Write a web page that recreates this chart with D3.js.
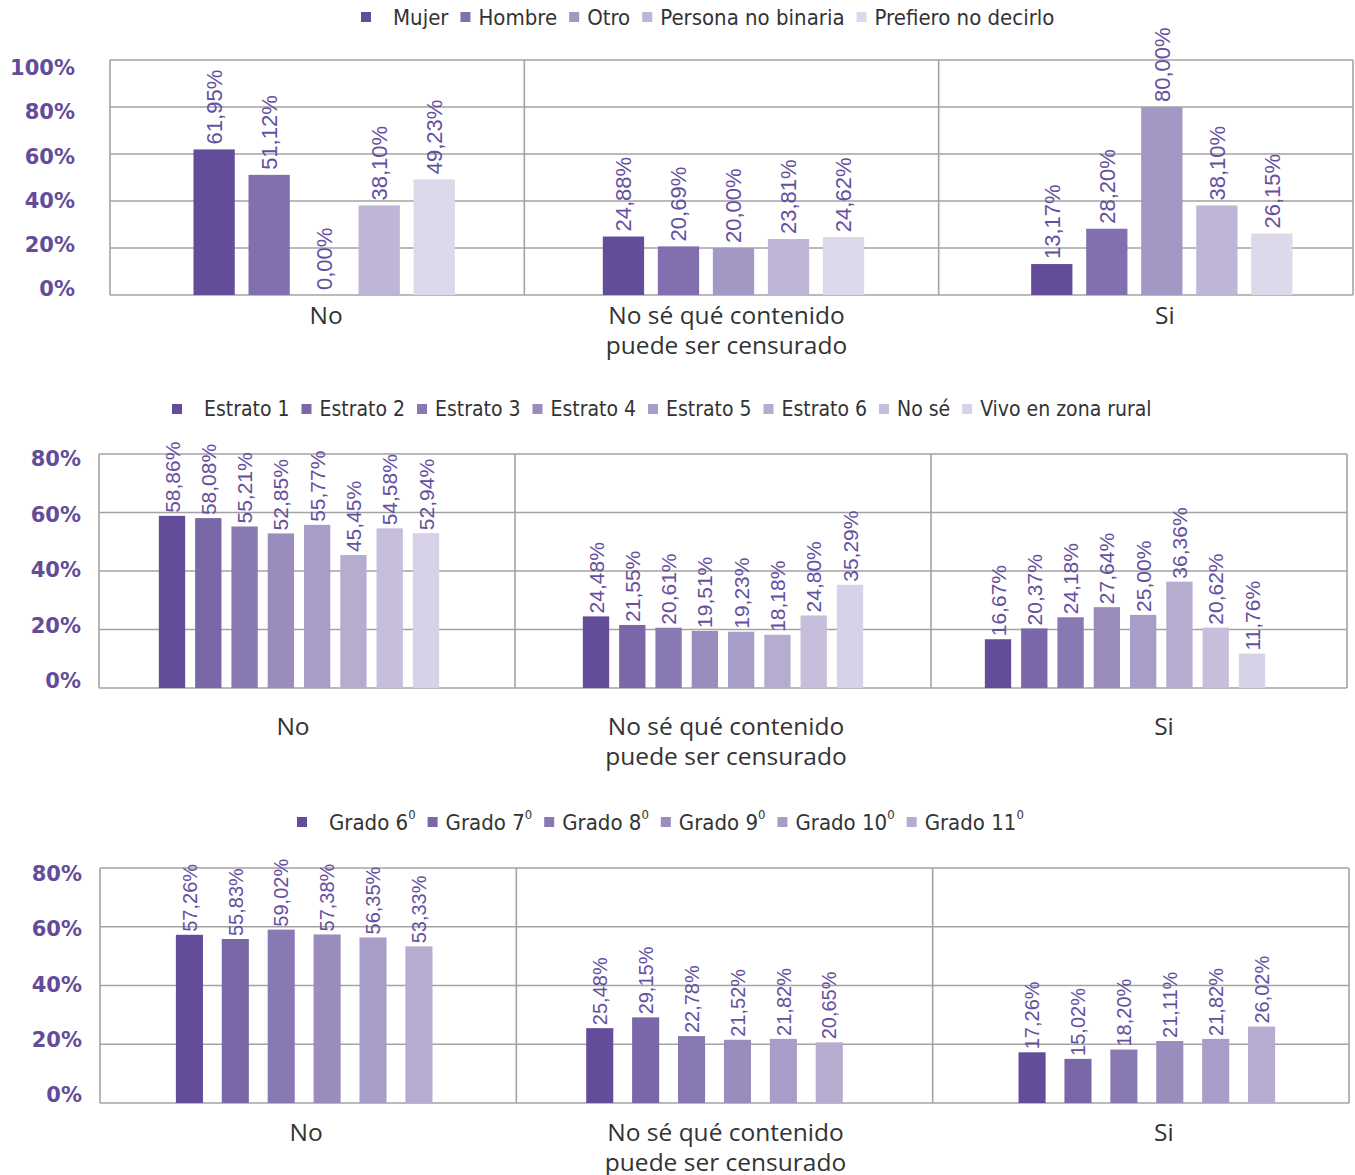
<!DOCTYPE html>
<html>
<head>
<meta charset="utf-8">
<script src="https://cdn.jsdelivr.net/npm/d3@7"></script>
<style>
  body { margin: 0; background: #fff; }
  svg { display: block; }
</style>
</head>
<body>
<svg id="chart" width="1355" height="1175"></svg>
<script>
// categories shared by the three panels
const categories = ["No", "No sé qué contenido\npuede ser censurado", "Si"];

// panel 1: gender
const generoSeries = ["Mujer", "Hombre", "Otro", "Persona no binaria", "Prefiero no decirlo"];
const generoValues = [
  [61.95, 24.88, 13.17],
  [51.12, 20.69, 28.20],
  [0.00, 20.00, 80.00],
  [38.10, 23.81, 38.10],
  [49.23, 24.62, 26.15]
];
const generoTicks = [0, 20, 40, 60, 80, 100];

// panel 2: estrato
const estratoSeries = ["Estrato 1", "Estrato 2", "Estrato 3", "Estrato 4", "Estrato 5", "Estrato 6", "No sé", "Vivo en zona rural"];
const estratoValues = [
  [58.86, 24.48, 16.67],
  [58.08, 21.55, 20.37],
  [55.21, 20.61, 24.18],
  [52.85, 19.51, 27.64],
  [55.77, 19.23, 25.00],
  [45.45, 18.18, 36.36],
  [54.58, 24.80, 20.62],
  [52.94, 35.29, 11.76]
];
const estratoTicks = [0, 20, 40, 60, 80];

// panel 3: grado (the "⁰" is drawn as a small superscript 0)
const gradoSeries = ["Grado 6⁰", "Grado 7⁰", "Grado 8⁰", "Grado 9⁰", "Grado 10⁰", "Grado 11⁰"];
const gradoValues = [
  [57.26, 25.48, 17.26],
  [55.83, 29.15, 15.02],
  [59.02, 22.78, 18.20],
  [57.38, 21.52, 21.11],
  [56.35, 21.82, 21.82],
  [53.33, 20.65, 26.02]
];
const gradoTicks = [0, 20, 40, 60, 80];

const colors5 = ["#634c99", "#826fae", "#a397c4", "#bfb5d6", "#ddd8ea"];
const colors8 = ["#634c99", "#7a67a8", "#8879b2", "#9a8cbd", "#a89dc8", "#b6acd0", "#c6bedb", "#d7d2e7"];
const colors6 = colors8.slice(0, 6);

const locale = d3.formatLocale({decimal: ",", thousands: ".", grouping: [3], currency: ["", ""]});
const pct = v => locale.format(".2f")(v) + "%";

const svg = d3.select("#chart");
const gridColor = "#a3a3a3";
const purple = "#634c99";

function drawPanel(cfg) {
  const g = svg.append("g");

  const x0 = d3.scaleBand().domain(categories).range([cfg.left, cfg.right]);
  const x1 = d3.scaleBand().domain(cfg.series)
    .range([0, x0.bandwidth()])
    .paddingInner(cfg.padIn).paddingOuter(cfg.padOut);
  const y = d3.scaleLinear().domain([0, d3.max(cfg.ticks)]).range([cfg.bottom, cfg.top]);
  // tick labels sit a bit tighter than the grid in the original
  const yLab = d3.scaleLinear().domain([0, d3.max(cfg.ticks)])
    .range([cfg.bottom - cfg.labBottom, cfg.top + cfg.labTop]);
  // groups are not exactly centred in their category in the original
  const gx = c => x0(c) + cfg.groupShift[categories.indexOf(c)];

  // horizontal grid lines
  g.append("g").selectAll("line")
    .data(cfg.ticks)
    .join("line")
    .attr("x1", cfg.left).attr("x2", cfg.right)
    .attr("y1", d => y(d)).attr("y2", d => y(d))
    .attr("stroke", gridColor).attr("stroke-width", 1.6);

  // vertical separators between categories
  const seps = categories.map(c => x0(c)).concat([cfg.right]);
  g.append("g").selectAll("line")
    .data(seps)
    .join("line")
    .attr("x1", d => d).attr("x2", d => d)
    .attr("y1", cfg.top).attr("y2", cfg.bottom)
    .attr("stroke", gridColor).attr("stroke-width", 1.6);

  // y axis labels
  const ax = g.append("g")
    .attr("transform", `translate(${cfg.tickX},0)`)
    .call(d3.axisLeft(yLab).tickValues(cfg.ticks).tickSize(0).tickPadding(0).tickFormat(d => d + "%"));
  ax.select(".domain").remove();
  ax.selectAll("text")
    .attr("fill", purple)
    .attr("font-family", "DejaVu Sans")
    .attr("font-weight", "bold")
    .attr("font-size", 21);

  // bars
  cfg.series.forEach((s, i) => {
    const sg = g.append("g");
    const rows = categories.map((c, j) => ({cat: c, v: cfg.values[i][j]}));
    sg.selectAll("rect")
      .data(rows)
      .join("rect")
      .attr("x", d => gx(d.cat) + x1(s))
      .attr("y", d => y(d.v))
      .attr("width", x1.bandwidth())
      .attr("height", d => y(0) - y(d.v))
      .attr("fill", cfg.colors[i]);

    sg.selectAll("text")
      .data(rows)
      .join("text")
      .attr("transform", d => `translate(${gx(d.cat) + x1(s) + x1.bandwidth() / 2},${y(d.v) - cfg.labGap}) rotate(-90)`)
      .attr("dy", "0.36em")
      .attr("font-family", "Liberation Sans")
      .attr("font-size", cfg.valSize)
      .attr("fill", "#6550a0")
      .text(d => pct(d.v));
  });

  // category labels
  const cx = d => x0(d) + x0.bandwidth() / 2 + cfg.catShift[categories.indexOf(d)];
  const cl = g.append("g").selectAll("text")
    .data(categories)
    .join("text")
    .attr("x", cx)
    .attr("y", cfg.bottom + cfg.catDy)
    .attr("text-anchor", "middle")
    .attr("dominant-baseline", "central")
    .attr("font-family", "Open Sans")
    .attr("font-size", 24.5)
    .attr("fill", "#333");
  cl.each(function(d) {
    const t = d3.select(this);
    d.split("\n").forEach((line, k) => {
      t.append("tspan")
        .attr("x", cx(d))
        .attr("dy", k === 0 ? 0 : 30)
        .text(line);
    });
  });

  // legend
  const lg = g.append("g");
  let lx = cfg.legendX;
  cfg.series.forEach((s, i) => {
    lg.append("rect")
      .attr("x", lx).attr("y", cfg.legendY - 5)
      .attr("width", 10).attr("height", 10)
      .attr("fill", cfg.colors[i]);
    lx += 10 + (i === 0 ? 22 : 8);
    const t = lg.append("text")
      .attr("x", lx).attr("y", cfg.legendY)
      .attr("dominant-baseline", "central")
      .attr("font-family", "Liberation Sans Narrow, DejaVu Sans Condensed, sans-serif")
      .attr("font-size", cfg.legendSize)
      .attr("fill", "#333");
    const sup = s.endsWith("⁰");
    t.append("tspan").text(sup ? s.slice(0, -1) : s);
    if (sup) {
      t.append("tspan").attr("font-size", 13).attr("dy", -8).text("0");
    }
    lx += t.node().getComputedTextLength() + 12;
  });
}

drawPanel({
  series: generoSeries, values: generoValues, colors: colors5, ticks: generoTicks,
  left: 110, right: 1353, top: 60, bottom: 295,
  padIn: 0.25, padOut: 1.39, groupShift: [7, 2, 16],
  labTop: 8, labBottom: 6, tickX: 75,
  valSize: 22, labGap: 5, catDy: 19, catShift: [9, -5, 19],
  legendX: 361, legendY: 17, legendSize: 22
});

drawPanel({
  series: estratoSeries, values: estratoValues, colors: colors8, ticks: estratoTicks,
  left: 99, right: 1347, top: 454, bottom: 688,
  padIn: 0.275, padOut: 1.87, groupShift: [-8, 0, -14],
  labTop: 5, labBottom: 7, tickX: 81,
  valSize: 21, labGap: 3, catDy: 37, catShift: [-14, 3, 25],
  legendX: 172, legendY: 409, legendSize: 21
});

drawPanel({
  series: gradoSeries, values: gradoValues, colors: colors6, ticks: gradoTicks,
  left: 100, right: 1349, top: 868, bottom: 1103,
  padIn: 0.41, padOut: 1.74, groupShift: [-4, -10, 6],
  labTop: 6, labBottom: 8, tickX: 82,
  valSize: 20, labGap: 3, catDy: 28, catShift: [-2, 1, 23],
  legendX: 297, legendY: 822, legendSize: 22
});
</script>
</body>
</html>
